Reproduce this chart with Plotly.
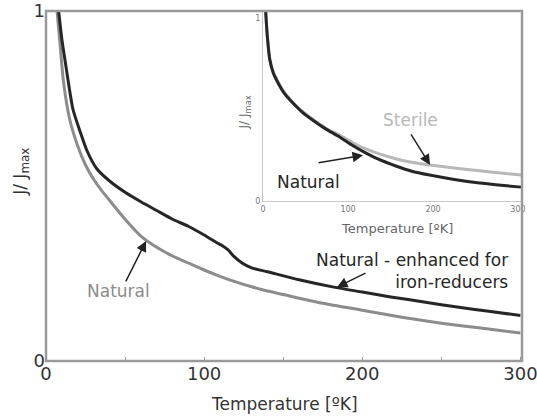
import plotly.graph_objects as go

# Main panel data (Temperature [K], J/Jmax)
main_T_enh = [8, 10, 12, 17, 22, 26, 32, 40, 50, 60, 70, 80, 90, 100, 108, 112, 115, 119, 124, 130, 140, 160, 182, 200, 218, 240, 260, 280, 300]
main_J_enh = [1.0, 0.92, 0.86, 0.72, 0.65, 0.60, 0.55, 0.515, 0.482, 0.455, 0.43, 0.405, 0.385, 0.36, 0.338, 0.328, 0.318, 0.298, 0.28, 0.266, 0.255, 0.232, 0.211, 0.197, 0.183, 0.168, 0.154, 0.142, 0.13]

main_T_nat = [7, 9, 11, 15, 20, 25, 30, 35, 40, 50, 60, 70, 80, 90, 100, 110, 120, 130, 140, 150, 175, 200, 225, 250, 275, 300]
main_J_nat = [1.0, 0.9, 0.8, 0.69, 0.615, 0.56, 0.52, 0.488, 0.46, 0.405, 0.357, 0.325, 0.30, 0.28, 0.26, 0.242, 0.226, 0.212, 0.20, 0.19, 0.165, 0.145, 0.125, 0.108, 0.094, 0.08]

# Inset data
ins_T = [3, 5, 8, 12, 16, 24, 32, 45, 59, 75, 90, 105, 118, 135, 157, 175, 196, 225, 255, 280, 304]
ins_J_nat = [1.04, 0.90, 0.77, 0.70, 0.66, 0.595, 0.55, 0.49, 0.44, 0.39, 0.35, 0.305, 0.27, 0.23, 0.19, 0.163, 0.142, 0.118, 0.098, 0.086, 0.076]
ins_J_ster = [1.04, 0.905, 0.775, 0.705, 0.665, 0.60, 0.555, 0.495, 0.445, 0.395, 0.36, 0.32, 0.29, 0.26, 0.23, 0.212, 0.197, 0.18, 0.165, 0.153, 0.142]

x_ticks = [0, 50, 100, 150, 200, 250, 300]
x_ticktext = ["0", "", "100", "", "200", "", "300"]
y_ticks = [0, 1]
y_ticktext = ["0", "1"]
ins_x_ticks = [0, 100, 200, 300]
ins_x_ticktext = ["0", "100", "200", "300"]

FONT = "DejaVu Sans"
DARK = "#262626"
GREY = "#8c8c8c"
LIGHT = "#b8b8b8"

fig = go.Figure()
fig.add_trace(go.Scatter(x=main_T_nat, y=main_J_nat, mode="lines",
                         line=dict(color=GREY, width=3, shape="spline", smoothing=0.6),
                         xaxis="x", yaxis="y", showlegend=False, hoverinfo="skip"))
fig.add_trace(go.Scatter(x=main_T_enh, y=main_J_enh, mode="lines",
                         line=dict(color=DARK, width=3, shape="spline", smoothing=0.6),
                         xaxis="x", yaxis="y", showlegend=False, hoverinfo="skip"))
fig.add_trace(go.Scatter(x=ins_T, y=ins_J_ster, mode="lines",
                         line=dict(color=LIGHT, width=3, shape="spline", smoothing=0.6),
                         xaxis="x2", yaxis="y2", showlegend=False, hoverinfo="skip"))
fig.add_trace(go.Scatter(x=ins_T, y=ins_J_nat, mode="lines",
                         line=dict(color=DARK, width=3, shape="spline", smoothing=0.6),
                         xaxis="x2", yaxis="y2", showlegend=False, hoverinfo="skip"))

axis_line = "#9a9a9a"
fig.update_layout(
    width=537, height=416,
    margin=dict(l=46, r=15, t=11, b=55, autoexpand=False),
    paper_bgcolor="white", plot_bgcolor="white",
    font=dict(family=FONT, color="#333"),
    xaxis=dict(domain=[0, 1], range=[0, 301], showgrid=False, zeroline=False, automargin=False,
               showline=False,
               tickmode="array", tickvals=x_ticks, ticktext=x_ticktext, ticklabeloverflow="allow",
               ticks="inside", ticklen=4, tickcolor=axis_line, tickwidth=1,
               tickfont=dict(size=18, color="#333", family=FONT)),
    yaxis=dict(domain=[0, 1], range=[0, 1], showgrid=False, zeroline=False, automargin=False,
               showline=False,
               tickmode="array", tickvals=y_ticks, ticktext=y_ticktext, ticklabeloverflow="allow",
               ticks="", tickfont=dict(size=18, color="#333", family=FONT)),
    xaxis2=dict(domain=[0.456, 1.0], range=[0, 304.7], anchor="y2", showgrid=False, zeroline=False,
                automargin=False, showline=True, linecolor="#c8c8c8", linewidth=1,
                tickmode="array", tickvals=ins_x_ticks, ticktext=ins_x_ticktext,
                ticks="", tickfont=dict(size=8, color="#777", family=FONT)),
    yaxis2=dict(domain=[0.457, 1.0], range=[0, 1.038], anchor="x2", showgrid=False, zeroline=False,
                automargin=False, showline=True, linecolor="#c8c8c8", linewidth=1,
                tickmode="array", tickvals=y_ticks, ticktext=y_ticktext,
                ticks="", tickfont=dict(size=8, color="#777", family=FONT)),
    shapes=[dict(type="rect", xref="paper", yref="paper", x0=0, x1=1, y0=0, y1=1,
                 line=dict(color=axis_line, width=2.5), fillcolor="rgba(0,0,0,0)", layer="above")],
)

ann = []
C = dict(xanchor="center", yanchor="middle", showarrow=False)
# Axis titles
ann.append(dict(text="Temperature [ºK]", xref="paper", yref="paper", x=0.5, y=-0.123,
                font=dict(size=17, color="#333", family=FONT), **C))
ann.append(dict(text="J/ J<sub>max</sub>", xref="paper", yref="paper", x=-0.053, y=0.54,
                textangle=-90, font=dict(size=17, color="#333", family=FONT), **C))
ann.append(dict(text="Temperature [ºK]", xref="paper", yref="paper", x=0.737, y=0.379,
                font=dict(size=13, color="#666", family=FONT), **C))
ann.append(dict(text="J/ J<sub>max</sub>", xref="paper", yref="paper", x=0.418, y=0.71,
                textangle=-90, font=dict(size=12, color="#666", family=FONT), **C))

# Main labels
ann.append(dict(text="Natural", x=45.6, y=0.2, xref="x", yref="y",
                font=dict(size=17, color=GREY, family=FONT), **C))
ann.append(dict(text="", x=63.3, y=0.343, ax=50, ay=0.223, xref="x", yref="y", axref="x", ayref="y",
                showarrow=True, arrowhead=2, arrowsize=1.4, arrowwidth=1.5, arrowcolor="#222"))
ann.append(dict(text="Natural - enhanced for<br>iron-reducers", x=293.7, y=0.257, xref="x", yref="y",
                xanchor="right", yanchor="middle", align="right", showarrow=False,
                font=dict(size=17, color=DARK, family=FONT)))
ann.append(dict(text="", x=184, y=0.211, ax=203, ay=0.253, xref="x", yref="y", axref="x", ayref="y",
                showarrow=True, arrowhead=2, arrowsize=1.4, arrowwidth=1.5, arrowcolor="#222"))

# Inset labels
ann.append(dict(text="Natural", x=54, y=0.104, xref="x2", yref="y2",
                font=dict(size=17, color=DARK, family=FONT), **C))
ann.append(dict(text="", x=117.6, y=0.25, ax=63.5, ay=0.208, xref="x2", yref="y2", axref="x2", ayref="y2",
                showarrow=True, arrowhead=2, arrowsize=1.4, arrowwidth=1.5, arrowcolor="#222"))
ann.append(dict(text="Sterile", x=173, y=0.443, xref="x2", yref="y2",
                font=dict(size=17, color=LIGHT, family=FONT), **C))
ann.append(dict(text="", x=196.5, y=0.197, ax=173, ay=0.372, xref="x2", yref="y2", axref="x2", ayref="y2",
                showarrow=True, arrowhead=2, arrowsize=1.4, arrowwidth=1.5, arrowcolor="#222"))

fig.update_layout(annotations=ann, hovermode=False)
fig.write_html("out.html", config={"displayModeBar": False, "staticPlot": True},
               post_script="document.body.style.margin='0px';document.body.style.padding='0px';")
